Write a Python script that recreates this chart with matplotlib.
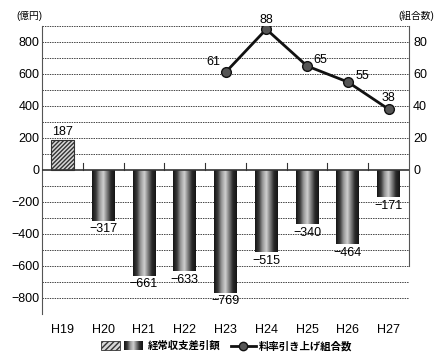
import matplotlib.pyplot as plt
from matplotlib.colors import LinearSegmentedColormap
from matplotlib.patches import Rectangle
from matplotlib.lines import Line2D
import numpy as np

plt.rcParams['font.family'] = ['Liberation Sans', 'Noto Sans CJK JP']
plt.rcParams['axes.unicode_minus'] = True

# data
years = ['H19', 'H20', 'H21', 'H22', 'H23', 'H24', 'H25', 'H26', 'H27']
balance = [187, -317, -661, -633, -769, -515, -340, -464, -171]
line_years = ['H23', 'H24', 'H25', 'H26', 'H27']
unions = [61, 88, 65, 55, 38]

fig = plt.figure(figsize=(4.39, 3.6), dpi=100)
ax = fig.add_axes([42 / 439, 1 - 314 / 360, 367 / 439, 288 / 360])
ax2 = ax.twinx()

x = np.arange(len(years))
w = 0.56
fs = 9

ax.set_xlim(-0.5, len(years) - 0.5)
ax.set_ylim(-900, 900)

# grid
for v in range(-900, 901, 100):
    if v != 0:
        ax.axhline(v, color='#444444', lw=0.7, ls=(0, (1.5, 1)), zorder=0)
ax.axhline(0, color='#333333', lw=1.2, zorder=3)

# bars
cmap = LinearSegmentedColormap.from_list('cyl', ['#151515', '#3a3a3a', '#9a9a9a', '#d0d0d0', '#7a7a7a', '#2a2a2a', '#151515'])
grad = np.linspace(0, 1, 64).reshape(1, -1)
bars = ax.bar(x, balance, width=w, zorder=2)
for i, (b, v) in enumerate(zip(bars, balance)):
    if v > 0:
        b.set_facecolor('#d8d8d8')
        b.set_hatch('////////')
        b.set_edgecolor('#333333')
        b.set_linewidth(0.8)
        ax.text(x[i], v + 12, str(v), ha='center', va='bottom', fontsize=fs)
    else:
        b.set_facecolor('none')
        b.set_edgecolor('none')
        im = ax.imshow(grad, aspect='auto', cmap=cmap,
                       extent=[x[i] - w / 2, x[i] + w / 2, v, 0], zorder=2)
        im.set_clip_path(b)
        ax.text(x[i], v - 15, '\u2212' + str(-v), ha='center', va='top', fontsize=fs)

# category separators on zero line
for s in x[:-1] + 0.5:
    ax.plot([s, s], [0, 45], color='#333333', lw=0.8, zorder=3)

ax.set_xticks(x)
ax.set_xticklabels(years, fontsize=fs)
ax.tick_params(axis='x', length=0, pad=7)
ax.set_yticks(range(-800, 801, 200))
ax.set_yticklabels([('\u2212' + str(-t)) if t < 0 else str(t) for t in range(-800, 801, 200)], fontsize=fs)
ax.tick_params(axis='y', length=0, pad=2)
for sp in ['top', 'right']:
    ax.spines[sp].set_visible(False)
ax.spines['left'].set_color('#555555')
ax.spines['bottom'].set_visible(False)

# right axis line
ax2.set_ylim(-90, 90)
ax2.set_yticks(range(0, 81, 20))
ax2.tick_params(axis='y', length=0, labelsize=fs, pad=3)
for sp in ['top', 'left', 'bottom']:
    ax2.spines[sp].set_visible(False)
ax2.spines['right'].set_bounds(-60, 90)
ax2.spines['right'].set_color('#555555')
lx = [years.index(y) for y in line_years]
ax2.plot(lx, unions, color='#111111', lw=2, marker='o', ms=7,
         mfc='#555555', mec='#111111', mew=1, zorder=5)
offsets = [(-0.3, 3, 'center', 'bottom'), (0, 2, 'center', 'bottom'),
           (0.15, 0, 'left', 'bottom'), (0.2, 0, 'left', 'bottom'), (0, 3, 'center', 'bottom')]
for xi, v, (dx, dy, ha, va) in zip(lx, unions, offsets):
    ax2.text(xi + dx, v + dy, str(v), ha=ha, va=va, fontsize=fs)

# unit labels
fig.text(16 / 439, 1 - 16 / 360, '(億円)', fontsize=7, va='center')
fig.text(398 / 439, 1 - 16 / 360, '(組合数)', fontsize=7, va='center')

# legend
ly = 1 - 346 / 360
fig.patches.append(Rectangle((101 / 439, ly - 4 / 360), 19 / 439, 9 / 360,
                             transform=fig.transFigure, facecolor='#d8d8d8',
                             hatch='//////', edgecolor='#333333', lw=0.6))
lg_ax = fig.add_axes([124 / 439, ly - 4 / 360, 19 / 439, 9 / 360])
lg_ax.imshow(grad, aspect='auto', cmap=cmap)
lg_ax.axis('off')
fig.text(148 / 439, ly, '経常収支差引額', fontsize=7.5, va='center', fontweight='bold')
fig.lines.append(Line2D([231 / 439, 256 / 439], [ly, ly], transform=fig.transFigure,
                        color='#111111', lw=2))
fig.lines.append(Line2D([243.5 / 439], [ly], transform=fig.transFigure,
                        color='#111111', marker='o', ms=6, mfc='#555555', mec='#111111'))
fig.text(259 / 439, ly, '料率引き上げ組合数', fontsize=7.5, va='center', fontweight='bold')

fig.savefig('out.png', dpi=100)
